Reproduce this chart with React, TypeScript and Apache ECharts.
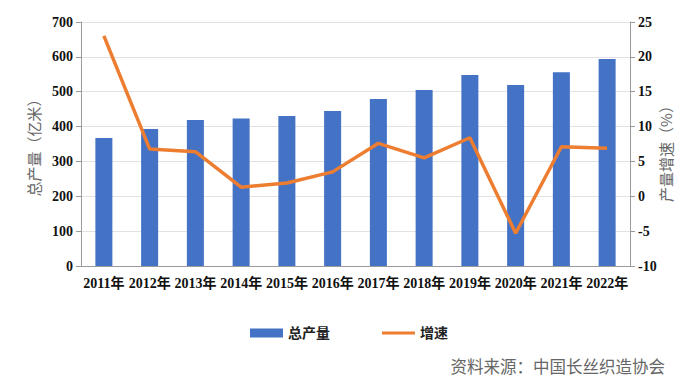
import React, { useEffect, useRef } from "react";
import * as echarts from "echarts";

const categories = ["2011年", "2012年", "2013年", "2014年", "2015年", "2016年", "2017年", "2018年", "2019年", "2020年", "2021年", "2022年"];
const totalOutput = [367, 393, 419, 423, 430, 445, 479, 505, 548, 519, 556, 594];
const growthRate = [23.0, 6.8, 6.4, 1.3, 1.9, 3.5, 7.6, 5.5, 8.4, -5.3, 7.1, 6.9];

const serif = "'Liberation Serif', 'Times New Roman', serif";
const cjk = "'Liberation Serif', 'Noto Sans CJK SC', serif";

export default function App() {
  const ref = useRef<HTMLDivElement>(null);
  useEffect(() => {
    if (!ref.current) return;
    const chart = echarts.init(ref.current, undefined, { renderer: "svg" });
    chart.setOption({
      animation: false,
      backgroundColor: "#ffffff",
      grid: { left: 81, right: 51, top: 22, bottom: 116, containLabel: false },
      legend: {
        left: 245,
        top: 321,
        itemWidth: 33,
        itemHeight: 9,
        itemGap: 52,
        textStyle: { fontFamily: cjk, fontWeight: "bold", fontSize: 14, color: "#222" },
        data: [
          { name: "总产量", icon: "rect" },
          { name: "增速", icon: "path://M0,0 L33,0 L33,3 L0,3 Z" },
        ],
      },
      xAxis: {
        type: "category",
        data: categories,
        axisLine: { lineStyle: { color: "#9a9a9a" } },
        axisTick: { show: false },
        axisLabel: { interval: 0, fontFamily: cjk, fontWeight: "bold", fontSize: 14, color: "#111", margin: 10 },
      },
      yAxis: [
        {
          type: "value",
          min: 0,
          max: 700,
          interval: 100,
          name: "总产量（亿米）",
          nameLocation: "middle",
          nameRotate: 90,
          nameGap: 40,
          nameTextStyle: { fontFamily: "'Noto Sans CJK SC', sans-serif", fontSize: 15, color: "#666" },
          axisLine: { show: true, lineStyle: { color: "#9a9a9a" } },
          axisTick: { show: true, length: 5, lineStyle: { color: "#9a9a9a" } },
          axisLabel: { fontFamily: serif, fontWeight: "bold", fontSize: 14, color: "#111", margin: 8 },
          splitLine: { lineStyle: { color: "#e2e2e2" } },
        },
        {
          type: "value",
          min: -10,
          max: 25,
          interval: 5,
          axisLine: { show: true, lineStyle: { color: "#9a9a9a" } },
          axisTick: { show: true, length: 5, lineStyle: { color: "#9a9a9a" } },
          axisLabel: { fontFamily: serif, fontWeight: "bold", fontSize: 14, color: "#111", margin: 8 },
          splitLine: { show: false },
        },
      ],
      series: [
        {
          name: "总产量",
          type: "bar",
          data: totalOutput,
          barWidth: 17,
          itemStyle: { color: "#4472C4" },
        },
        {
          name: "增速",
          type: "line",
          yAxisIndex: 1,
          data: growthRate,
          symbol: "none",
          lineStyle: { color: "#ED7D31", width: 3.5 },
          itemStyle: { color: "#ED7D31" },
        },
      ],
      graphic: [
        {
          type: "text",
          x: 665,
          y: 150,
          rotation: Math.PI / 2,
          style: {
            text: "产量增速（%）",
            fontFamily: "'Noto Sans CJK SC', sans-serif",
            fontSize: 15,
            fill: "#666",
            align: "center",
            verticalAlign: "middle",
          },
        },
        {
          type: "text",
          right: 16,
          top: 358,
          style: {
            text: "资料来源：中国长丝织造协会",
            fontFamily: "'Noto Sans CJK SC', sans-serif",
            fontSize: 16.5,
            fill: "#666",
          },
        },
      ],
    });
    return () => chart.dispose();
  }, []);
  return <div ref={ref} style={{ position: "fixed", left: 0, top: 0, width: 681, height: 382 }} />;
}
